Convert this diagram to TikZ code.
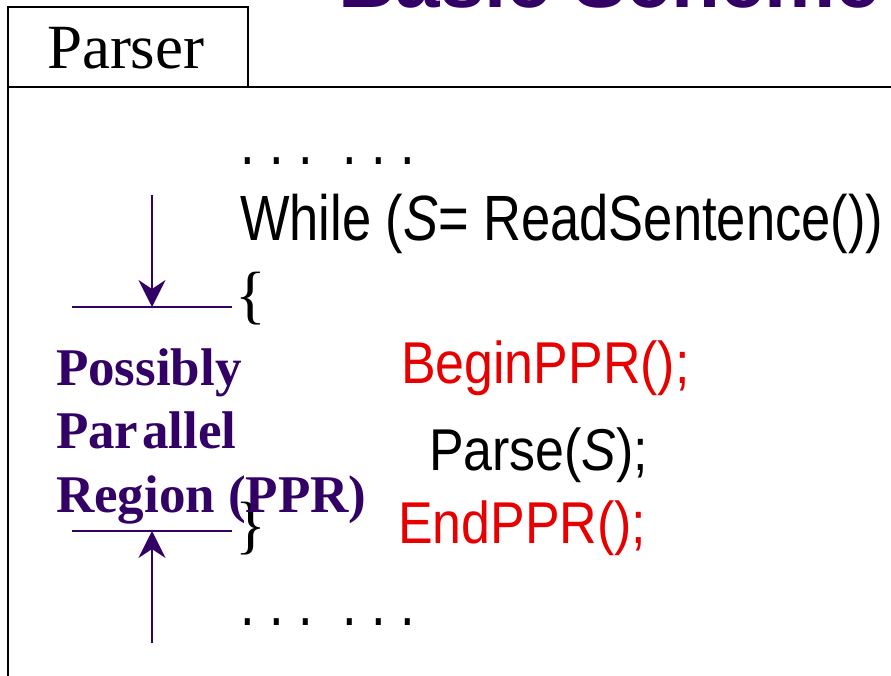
\documentclass[tikz,border=0pt]{standalone}
\usepackage{fontspec}
\setmainfont{Liberation Serif}
\newfontfamily\codefont[FakeStretch=0.82]{Liberation Sans}
\newfontfamily\codefontb[FakeStretch=0.88]{Liberation Sans}
\newfontfamily\titlefont{Liberation Sans}
\usetikzlibrary{arrows.meta}
\definecolor{pprpurple}{RGB}{51,0,102}
\definecolor{pprred}{RGB}{232,0,0}
\begin{document}
\begin{tikzpicture}[x=1pt,y=-1pt,
  txt/.style={inner sep=0pt,outer sep=0pt,anchor=base west},
  codebig/.style={txt,font=\codefont\fontsize{64}{64}\selectfont},
  codemid/.style={txt,font=\codefontb\fontsize{59}{59}\selectfont},
  bracetxt/.style={txt,font=\fontsize{64}{64}\selectfont},
  annot/.style={txt,text=pprpurple,font=\bfseries\fontsize{53}{53}\selectfont},
  frame/.style={line width=2pt,black},
  marker/.style={line width=2pt,pprpurple},
  pointer/.style={line width=2pt,pprpurple,-{Stealth[length=27pt,width=27pt,inset=9pt]}}
]
\useasboundingbox (0,0) rectangle (891,676);
\clip (0,0) rectangle (891,676);
\fill[white] (0,0) rectangle (891,676);

% title (cut off at top)
\node[txt,text=pprpurple,font=\titlefont\bfseries\fontsize{80}{80}\selectfont] (title) at (338,8) {Basic Scheme};

% frame with tab
\draw[frame] (8,676) -- (8,87) -- (891,87);
\draw[frame] (8,87) -- (8,7) -- (248,7) -- (248,87);
\node[txt,font=\fontsize{63}{63}\selectfont] (parser) at (47,69) {Parser};

% code
\node[codebig] (dots1) at (240,165) {\frenchspacing.\ .\ .\ \ .\ .\ .};
\node[codebig] (while) at (240,241) {While (\textit{S}= ReadSentence())};
\node[bracetxt] (lbrace) at (235,316) {\{};
\node[codemid,text=pprred] (begin) at (401,383) {BeginPPR();};
\node[codemid] (parse) at (429,470) {Parse(\textit{S});};
\node[codemid,text=pprred] (endppr) at (398,543) {EndPPR();};
\node[bracetxt] (rbrace) at (235,546) {\}};
\node[codebig] (dots2) at (240,625) {\frenchspacing.\ .\ .\ \ .\ .\ .};

% annotation
\node[annot] (ppr1) at (56,385) {Possibly};
\node[annot] (ppr2) at (56,448) {Par\kern4pt allel};
\node[annot] (ppr3) at (56,512) {Region (PPR)};

% markers
\coordinate (h1l) at (72,307);
\coordinate (h1r) at (232,307);
\coordinate (a1s) at (152,195);
\coordinate (a1e) at (152,307);
\coordinate (h2l) at (72,531);
\coordinate (h2r) at (232,531);
\coordinate (a2s) at (152,643);
\coordinate (a2e) at (152,531);
\draw[marker] (h1l) -- (h1r);
\draw[marker] (h2l) -- (h2r);
\draw[pointer] (a1s) -- (a1e);
\draw[pointer] (a2s) -- (a2e);
\end{tikzpicture}
\end{document}
